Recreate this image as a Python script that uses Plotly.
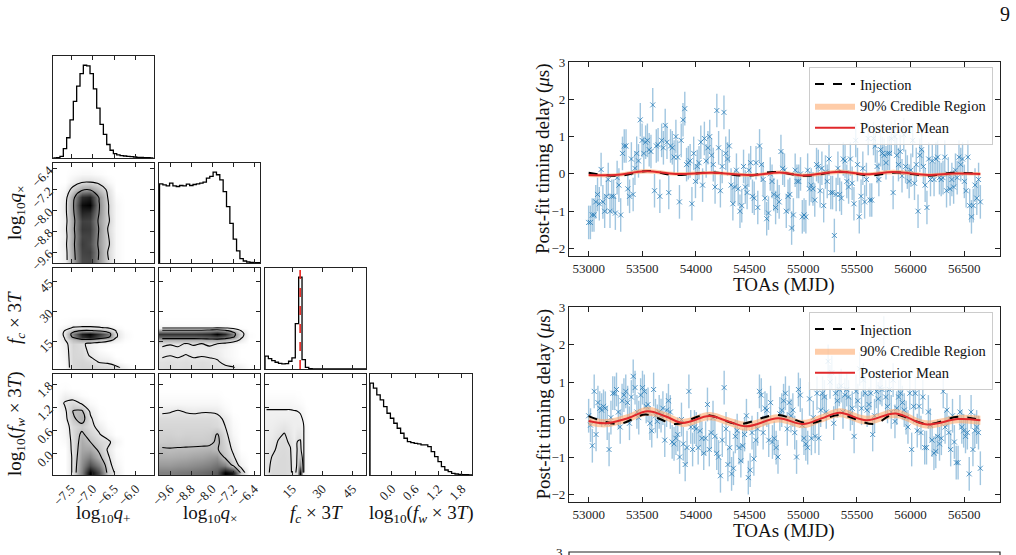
import numpy as np
import plotly.graph_objects as go

W, H = 1016, 555
SERIF = "Liberation Serif"

# ---------------- corner plot: 1-D marginal histograms ----------------
qp_range = [-7.91, -5.59]
qp_counts = [0, 1, 5, 28, 60, 113, 168, 213, 250, 275, 273, 250, 205, 148, 100,
             70, 40, 23, 13, 9, 7, 6, 5, 4, 3, 2, 2, 1, 1, 0]
qx_range = [-10.0, -6.18]
qx_counts = [236, 233, 230, 238, 230, 228, 231, 230, 235, 231, 234, 236, 238, 241, 253,
             258, 271, 263, 248, 213, 168, 118, 71, 36, 13, 6, 3, 2, 1, 1]
fc_range = [1.35, 51.8]
fc_counts = [38, 31, 25, 20, 17, 15, 16, 23, 33, 135, 273, 28, 5, 1, 0,
             0, 0, 0, 0, 0, 0, 0, 0, 0, 0, 0, 0, 0, 0, 0]
fw_range = [-0.557, 2.065]
fw_counts = [275, 260, 240, 225, 205, 185, 170, 155, 140, 125, 110, 100, 97, 95, 93,
             90, 90, 85, 70, 55, 40, 25, 15, 10, 5, 3, 2, 1, 1, 0]
fc_truth = 18.9

# ---------------- corner plot: 2-D density grids ----------------
qp_centers = [-7.85, -7.65, -7.45, -7.25, -7.05, -6.85, -6.65, -6.45, -6.25, -6.05, -5.85, -5.65]
qx_centers = [-9.9, -9.6, -9.3, -9.0, -8.7, -8.4, -8.1, -7.8, -7.5, -7.2, -6.9, -6.6, -6.3]
fc_centers = [2, 5, 8, 11, 14, 16, 17.5, 19, 20.5, 22, 24, 28, 40, 52]
fw_centers = [-0.5, -0.3, -0.1, 0.1, 0.3, 0.5, 0.7, 0.9, 1.1, 1.3, 1.5, 1.7, 1.9]

dens_qp_qx = [
    [0, 0.4, 2.4, 4.8, 4.9, 2.8, 1.1, 0.2, 0, 0, 0, 0],
    [0, 0.4, 2.5, 5.0, 5.1, 2.9, 1.0, 0.2, 0, 0, 0, 0],
    [0, 0.5, 2.6, 5.2, 4.8, 2.7, 1.2, 0.2, 0, 0, 0, 0],
    [0, 0.4, 2.5, 5.0, 5.0, 2.8, 1.1, 0.2, 0, 0, 0, 0],
    [0, 0.5, 2.6, 5.3, 5.2, 2.9, 1.0, 0.2, 0, 0, 0, 0],
    [0, 0.4, 2.5, 5.1, 5.0, 2.7, 1.2, 0.2, 0, 0, 0, 0],
    [0, 0.5, 2.7, 5.8, 5.6, 3.0, 1.1, 0.2, 0, 0, 0, 0],
    [0, 0.5, 2.8, 6.5, 6.8, 3.1, 1.1, 0.2, 0, 0, 0, 0],
    [0, 0.4, 2.5, 5.6, 6.0, 2.9, 1.0, 0.1, 0, 0, 0, 0],
    [0, 0.2, 1.4, 2.6, 2.8, 1.8, 0.8, 0, 0, 0, 0, 0],
    [0, 0, 0.4, 0.85, 0.9, 0.7, 0.2, 0, 0, 0, 0, 0],
    [0, 0, 0.1, 0.2, 0.2, 0.1, 0, 0, 0, 0, 0, 0],
    [0, 0, 0, 0, 0, 0, 0, 0, 0, 0, 0, 0],
]
dens_qp_fc = [
    [0, 0.2, 1.6, 1.8, 1.8, 1.6, 1.5, 1.3, 0.6, 0, 0, 0],
    [0, 0.3, 1.6, 1.7, 1.5, 0.9, 0.8, 0.3, 0, 0, 0, 0],
    [0, 0.4, 1.6, 1.5, 0.9, 0.5, 0.3, 0, 0, 0, 0, 0],
    [0, 0.5, 1.6, 1.4, 0.7, 0.2, 0, 0, 0, 0, 0, 0],
    [0, 0.6, 1.7, 1.3, 0.6, 0.3, 0.2, 0.1, 0, 0, 0, 0],
    [0, 0.9, 2.5, 3.5, 3.5, 2.5, 1.6, 0.7, 0.1, 0, 0, 0],
    [0, 1.1, 4.6, 8.0, 9.0, 7.0, 5.0, 1.1, 0.2, 0, 0, 0],
    [0, 1.2, 5.0, 9.0, 10.0, 8.0, 5.5, 1.1, 0.2, 0, 0, 0],
    [0, 1.0, 3.0, 4.1, 4.2, 3.6, 2.5, 0.9, 0.1, 0, 0, 0],
    [0, 0.5, 1.1, 1.2, 1.2, 1.1, 0.9, 0.3, 0, 0, 0, 0],
    [0, 0.1, 0.3, 0.4, 0.4, 0.3, 0.1, 0, 0, 0, 0, 0],
    [0, 0, 0, 0, 0, 0, 0, 0, 0, 0, 0, 0],
    [0, 0, 0, 0, 0, 0, 0, 0, 0, 0, 0, 0],
    [0, 0, 0, 0, 0, 0, 0, 0, 0, 0, 0, 0],
]
dens_qp_fw = [
    [0, 0, 1.2, 5.0, 10.0, 7.0, 2.0, 0.7, 0, 0, 0, 0],
    [0, 0, 1.2, 4.5, 7.0, 5.0, 1.5, 0.4, 0, 0, 0, 0],
    [0, 0, 1.2, 4.0, 5.0, 3.0, 1.2, 0.2, 0, 0, 0, 0],
    [0, 0, 1.3, 3.5, 3.5, 2.2, 0.9, 0.1, 0, 0, 0, 0],
    [0, 0.2, 1.3, 3.2, 2.5, 1.6, 1.3, 0.4, 0, 0, 0, 0],
    [0, 0.3, 1.4, 2.8, 1.8, 1.1, 0.4, 0, 0, 0, 0, 0],
    [0, 0.4, 1.5, 2.0, 1.3, 0.7, 0.1, 0, 0, 0, 0, 0],
    [0, 0.5, 2.2, 3.2, 1.2, 0.2, 0, 0, 0, 0, 0, 0],
    [0, 0.6, 2.6, 2.7, 0.8, 0.1, 0, 0, 0, 0, 0, 0],
    [0, 1.1, 1.5, 0.9, 0.2, 0, 0, 0, 0, 0, 0, 0],
    [0, 0.6, 0.4, 0.1, 0, 0, 0, 0, 0, 0, 0, 0],
    [0, 0.1, 0, 0, 0, 0, 0, 0, 0, 0, 0, 0],
    [0, 0, 0, 0, 0, 0, 0, 0, 0, 0, 0, 0],
]
dens_qx_fc = [
    [1.3, 1.4, 1.3, 1.4, 1.3, 1.4, 1.3, 1.3, 1.2, 1.1, 0.6, 0.1, 0],
    [1.2, 1.3, 1.2, 1.3, 1.2, 1.3, 1.2, 1.1, 0.7, 0.3, 0.1, 0, 0],
    [0.9, 1.0, 0.9, 1.05, 0.9, 0.95, 0.9, 0.8, 0.4, 0.2, 0, 0, 0],
    [0.8, 0.8, 0.85, 0.8, 0.75, 0.8, 0.85, 0.7, 0.4, 0.2, 0, 0, 0],
    [1.2, 1.05, 1.15, 0.95, 1.1, 1.0, 1.1, 1.0, 0.7, 0.3, 0.1, 0, 0],
    [3.0, 3.0, 3.0, 3.0, 3.0, 3.0, 3.2, 3.4, 3.0, 2.0, 0.8, 0, 0],
    [6.0, 6.0, 6.0, 6.0, 6.0, 6.2, 6.5, 7.0, 6.0, 4.5, 1.3, 0.1, 0],
    [8.0, 8.0, 8.0, 8.0, 8.0, 8.2, 8.5, 10.0, 8.5, 5.0, 1.5, 0.1, 0],
    [4.5, 4.5, 4.5, 4.5, 4.5, 4.6, 5.0, 5.5, 4.5, 3.0, 1.0, 0, 0],
    [0.5, 0.5, 0.5, 0.5, 0.5, 0.5, 0.5, 0.6, 0.5, 0.3, 0.1, 0, 0],
    [0.1, 0.1, 0.1, 0.1, 0.1, 0.1, 0.1, 0.1, 0.1, 0, 0, 0, 0],
    [0, 0, 0, 0, 0, 0, 0, 0, 0, 0, 0, 0, 0],
    [0, 0, 0, 0, 0, 0, 0, 0, 0, 0, 0, 0, 0],
    [0, 0, 0, 0, 0, 0, 0, 0, 0, 0, 0, 0, 0],
]
dens_qx_fw = [
    [5.0, 5.0, 5.2, 5.3, 5.5, 5.7, 6.0, 6.5, 10.0, 9.0, 2.0, 0, 0],
    [4.0, 4.0, 4.2, 4.3, 4.5, 4.7, 5.0, 5.5, 5.0, 2.0, 0.5, 0, 0],
    [3.2, 3.2, 3.3, 3.4, 3.6, 3.7, 4.0, 4.3, 2.2, 1.2, 0.2, 0, 0],
    [2.7, 2.6, 2.7, 2.7, 2.8, 2.9, 3.0, 2.6, 1.8, 0.8, 0, 0, 0],
    [2.0, 2.1, 2.0, 2.1, 2.0, 2.0, 2.1, 2.8, 1.6, 0.5, 0, 0, 0],
    [1.8, 1.8, 1.7, 1.8, 1.8, 1.8, 1.9, 2.6, 1.3, 0.3, 0, 0, 0],
    [1.6, 1.6, 1.6, 1.6, 1.6, 1.6, 1.6, 1.5, 1.0, 0.2, 0, 0, 0],
    [1.4, 1.4, 1.4, 1.4, 1.4, 1.4, 1.4, 1.3, 0.8, 0.1, 0, 0, 0],
    [0.8, 0.9, 1.1, 0.9, 0.8, 0.9, 0.9, 0.8, 0.3, 0, 0, 0, 0],
    [0.3, 0.3, 0.3, 0.3, 0.3, 0.3, 0.3, 0.3, 0.1, 0, 0, 0, 0],
    [0.1, 0.1, 0.1, 0.1, 0.1, 0.1, 0.1, 0.1, 0, 0, 0, 0, 0],
    [0, 0, 0, 0, 0, 0, 0, 0, 0, 0, 0, 0, 0],
    [0, 0, 0, 0, 0, 0, 0, 0, 0, 0, 0, 0, 0],
]
dens_fc_fw = [
    [2.0, 3.0, 3.0, 3.0, 2.7, 2.0, 3.0, 20.0, 1.1, 0.5, 0, 0, 0, 0],
    [2.0, 2.8, 3.0, 3.0, 2.8, 1.5, 2.8, 10.0, 1.1, 0.5, 0, 0, 0, 0],
    [1.8, 2.6, 2.9, 3.0, 2.7, 1.5, 2.7, 5.0, 1.1, 0.5, 0, 0, 0, 0],
    [1.6, 2.2, 2.8, 2.9, 2.6, 1.4, 2.6, 3.0, 1.1, 0.5, 0, 0, 0, 0],
    [1.5, 1.9, 2.6, 2.8, 2.3, 1.4, 2.55, 2.7, 1.1, 0.5, 0, 0, 0, 0],
    [1.4, 1.6, 2.2, 2.6, 1.9, 1.3, 1.9, 2.0, 1.1, 0.5, 0, 0, 0, 0],
    [1.3, 1.4, 1.7, 2.0, 1.6, 1.3, 1.4, 1.4, 1.1, 0.4, 0, 0, 0, 0],
    [1.2, 1.2, 1.3, 1.3, 1.3, 1.3, 1.3, 1.2, 0.9, 0.3, 0, 0, 0, 0],
    [1.1, 1.1, 1.1, 1.1, 1.1, 1.05, 1.0, 0.9, 0.6, 0.2, 0, 0, 0, 0],
    [0.6, 0.6, 0.6, 0.6, 0.6, 0.5, 0.4, 0.3, 0.2, 0, 0, 0, 0, 0],
    [0.2, 0.2, 0.2, 0.2, 0.2, 0.2, 0.1, 0.1, 0, 0, 0, 0, 0, 0],
    [0, 0, 0, 0, 0, 0, 0, 0, 0, 0, 0, 0, 0, 0],
    [0, 0, 0, 0, 0, 0, 0, 0, 0, 0, 0, 0, 0, 0],
]

# ---------------- timing residuals ----------------
toa_start, toa_end = 53000, 56650
resid_top = [
    -1.3, -1.3, -1.1, -1.1, -0.75, -0.55, -0.8, 0.12, -0.75, -1.0,
    -0.6, -0.15, -1.0, -0.6, -0.6, -1.05, -0.1, -0.3, -1.1,
    0.55, 0.75, 0.75, -0.4, -0.6, 0.4, -0.55, 0.15, 0.55, 0.35, 1.45, 0.9, 0.55, 0.85, 0.9, 0.65, 0.6,
    1.85, -0.45, 0.75, 0.78, -0.6, 0.9, 0.7, 1.3, 0.85, -0.5, 0.75, 0.7, 0.45, 1.0,
    0.45, -0.75, 0.9, 1.45, 1.75, 0.25, 0.3, 0.35, -0.8, 0.55, -0.2, 0.2, 0.3, 0.85, -0.3,
    0.95, 0.35, 0.7, 1.0, 0.5, 0.25, -0.35, 1.7, 0.7, -0.45, 0.2, 1.65, 0.55, 0.4, 0.75,
    -0.3, -0.8, -0.35, 0.1, -0.4, -1.0, -0.85, 0.2, -0.35, -0.5, 0.1, 0.3, -0.6, -0.65, 0.3,
    -0.9, 0.75, 0.25, -0.15, -0.65, -1.2, -1.05, 0.0, -0.2, -0.55, -0.9, -0.6, -0.75, 0.6, 0.15, 0.1,
    -1.0, -0.6, -0.55, -1.45, -1.1, 0.1, -0.2, -0.2, 0.0, -1.15, -1.1, -1.15, 0.1, -0.4, -0.3,
    -0.4, -0.7, 0.25, 0.2, -0.45, 0.15, -0.85, 0.05, -0.2, 0.4, -0.5, -0.5, -1.65, -0.55,
    0.15, -0.55, -0.65, 0.4, 0.35, -0.2, -0.35, 0.4, -0.25, -0.8, 0.9, 0.25, -1.15,
    -0.6, 0.15, -0.75, -0.15, 0.95, -0.7, -0.7, 0.95, 0.75, 0.2, -0.15, 0.65, 0.55, 0.5, 0.3, 0.55,
    0.55, 0.95, -0.5, 1.0, 0.5, 0.25, 0.6, -0.05, 1.05, 0.2, 0.05, -0.2, 0.1,
    0.9, -0.25, 0.25, -1.0, 0.5, 0.65, 0.2, -0.3, -0.9, 0.4, -0.15, 0.35, -0.15, 0.4, 0.45,
    -0.1, -0.15, -0.1, 0.45, -0.45, 0.0, -0.4, -0.15, -0.35, 0.1, -0.1, 0.45, 0.25, 0.4,
    -0.2, -0.45, 0.45, -0.85, -1.15, -0.85, -0.3, -0.65, -0.15, -0.75,
]
resid_bot = [
    0.1, -0.15, -0.7, 0.75, -0.4, 0.45, 0.3, 0.25, 0.35, 0.3, -0.1, -0.8, 0.05, 0.7, 0.7,
    0.8, 0.2, -0.2, 0.5, 0.65, 0.75, 0.45, -0.1, 0.6, 1.15, 0.85, 0.2, 0.05, 0.65,
    0.85, 0.75, 0.35, 0.4, -0.1, -0.3, 0.8, 0.1, -0.05, 0.2, 0.1, 0.3, -0.55, 0.25,
    0.5, 0.2, -0.6, -0.65, -0.5, -0.4, -1.0, 0.0, -0.65, -1.2, -0.75, 0.75, -0.2, -0.8, -0.2,
    -0.25, -0.75, -0.3, -0.5, -0.9, -0.5, 0.4, -0.8, -0.35, 0.05, -0.45, -0.9, -1.0, -1.5, -0.55, 0.85,
    -0.25, -1.2, -0.75, -1.45, -1.3, -0.45, -0.3, -0.75, -1.1, -0.7, -0.4, 0.1, -1.55, -1.35, -0.35,
    -1.05, -0.55, -0.25, 0.75, 0.65, -0.35, 0.3, 0.25, -0.55, 0.45, -0.6, -0.5, -0.75, -1.0, 0.15,
    0.25, 0.5, 0.7, -0.25, 0.45, 0.1, 0.25, -0.35, -1.0, 0.8, 0.65, -0.15, -0.5, -0.65, -0.75, 0.55,
    -0.5, 0.05, -0.45, 0.7, -0.5, 0.25, 0.7, 0.6, 0.2, 1.55, 1.0, 1.25, -0.1, 0.7, 0.5,
    0.8, 0.9, 0.2, 0.65, 0.8, 0.6, 0.15, 0.3, -0.45, 0.75, 0.5, 1.35, 0.3,
    1.05, 0.7, 0.25, 0.4, 0.7, -0.4, 0.1, 0.75, 0.55, 0.85, 0.8, 2.3, 0.6, 0.35,
    0.8, 0.2, 1.05, -0.05, 0.3, 0.6, 0.7, 0.45, 0.25, 0.05, -0.2, 0.7, -0.8, 0.35,
    0.7, -0.3, 0.35, -0.35, 0.6, -0.75, -0.75, 0.2, -0.15, -0.55, -0.9, -0.85, -0.45, -0.65, -0.5,
    0.75, -0.2, 0.25, -0.35, -0.8, 0.1, -0.6, -1.15, -1.15, 0.2, -0.2, -0.3,
    -0.45, -0.35, -1.45, 0.2, -0.8, -0.3, -0.2, -0.35, -1.3,
]
toa_err = 0.45

# signal curves (knots)
top_mean_t = [53000, 53250, 53530, 53810, 54150, 54530, 54780, 55000, 55340, 55590, 55840, 56160, 56400, 56650]
top_mean_v = [-0.03, -0.03, 0.07, 0.0, 0.03, -0.03, 0.04, -0.04, 0.06, -0.01, 0.05, -0.03, 0.01, 0.0]
top_band_hw = [0.05, 0.05, 0.06, 0.05, 0.05, 0.05, 0.05, 0.05, 0.06, 0.05, 0.06, 0.05, 0.05, 0.05]
top_inj_t = [53000, 53280, 53550, 53800, 54150, 54470, 54720, 55030, 55340, 55620, 55870, 56160, 56400, 56650]
top_inj_v = [0.03, -0.05, 0.08, -0.03, 0.04, -0.05, 0.05, -0.05, 0.06, -0.04, 0.04, -0.05, 0.03, 0.0]

bot_mean_t = [53000, 53160, 53350, 53550, 53720, 53875, 54125, 54300, 54470, 54765, 55000, 55170,
              55340, 55590, 55860, 56140, 56440, 56650]
bot_mean_v = [-0.04, -0.1, 0.02, 0.22, 0.08, -0.09, 0.09, -0.05, -0.18, 0.03, -0.12, 0.03,
              0.18, -0.02, 0.16, -0.13, 0.01, -0.02]
bot_band_hw = [0.12, 0.11, 0.11, 0.12, 0.11, 0.11, 0.11, 0.11, 0.12, 0.11, 0.11, 0.11,
               0.12, 0.12, 0.12, 0.11, 0.11, 0.12]
bot_inj_t = [53000, 53280, 53530, 53810, 54090, 54400, 54750, 55060, 55340, 55660, 55840, 56160, 56440, 56650]
bot_inj_v = [0.09, -0.12, 0.13, -0.12, 0.12, -0.12, 0.12, -0.1, 0.12, -0.12, 0.13, -0.12, 0.07, -0.01]

# ---------------- layout geometry (pixels) ----------------
col_px = [(53, 154), (159, 260), (265, 366), (370, 472)]
row_px = [(56, 158), (163, 263), (268, 369), (374, 475)]
right_x = (569, 1000)
right_rows = [(62, 256), (307, 502)]

def dx(a, b):
    return [a / W, b / W]

def dy(top, bot):
    return [1 - bot / H, 1 - top / H]

params = {
    "qp": dict(range=[-7.917, -5.577], tickvals=[-7.5, -7.0, -6.5, -6.0], fmt=".1f"),
    "qx": dict(range=[-10.02, -6.18], tickvals=[-9.6, -8.8, -8.0, -7.2, -6.4], fmt=".1f"),
    "fc": dict(range=[1.35, 51.8], tickvals=[15, 30, 45], fmt="d"),
    "fw": dict(range=[-0.557, 2.065], tickvals=[0.0, 0.6, 1.2, 1.8], fmt=".1f"),
}
names = ["qp", "qx", "fc", "fw"]
centers = {"qp": qp_centers, "qx": qx_centers, "fc": fc_centers, "fw": fw_centers}
hists = {"qp": (qp_range, qp_counts), "qx": (qx_range, qx_counts),
         "fc": (fc_range, fc_counts), "fw": (fw_range, fw_counts)}
dens = {("qp", "qx"): (dens_qp_qx, 1.0, 3.0), ("qp", "fc"): (dens_qp_fc, 1.0, 4.0),
        ("qp", "fw"): (dens_qp_fw, 1.0, 2.5), ("qx", "fc"): (dens_qx_fc, 1.0, 4.0),
        ("qx", "fw"): (dens_qx_fw, 1.0, 2.5), ("fc", "fw"): (dens_fc_fw, 1.0, 2.5)}

AX = dict(showline=True, linecolor="#222", linewidth=1.2, mirror="ticks", ticks="inside",
          ticklen=4, tickwidth=1, tickcolor="#222", showgrid=False, zeroline=False,
          automargin=False, tickfont=dict(family=SERIF, size=13, color="#222"))

fig = go.Figure()
layout = {}
idx = 0
for r in range(4):
    for c in range(r + 1):
        idx += 1
        xa, ya = f"x{idx}", f"y{idx}"
        xn, yn = names[c], names[r]
        px_ = params[xn]
        xaxis = dict(AX, domain=dx(*col_px[c]), anchor=ya, range=px_["range"],
                     tickmode="array", tickvals=px_["tickvals"], tickformat=px_["fmt"],
                     showticklabels=(r == 3), tickangle=-45)
        if r == c:
            rng, cnt = hists[xn]
            n = len(cnt)
            edges = np.linspace(rng[0], rng[1], n + 1)
            hx = [edges[0]] + list(edges)
            hy = [0] + list(cnt) + [0]
            fig.add_trace(go.Scatter(x=hx, y=hy, mode="lines", line=dict(color="black", width=1.3, shape="hv"),
                                     xaxis=xa, yaxis=ya, showlegend=False, hoverinfo="skip"))
            ymax = 1.1 * max(cnt)
            yaxis = dict(showline=True, linecolor="#222", linewidth=1.2, mirror=True, ticks="",
                         showticklabels=False, showgrid=False, zeroline=False, automargin=False,
                         domain=dy(*row_px[r]), anchor=xa, range=[0, ymax])
            if xn == "fc":
                fig.add_trace(go.Scatter(x=[fc_truth, fc_truth], y=[0, ymax], mode="lines",
                                         line=dict(color="#e8231f", width=1.6, dash="dash"),
                                         xaxis=xa, yaxis=ya, showlegend=False, hoverinfo="skip"))
        else:
            z, l1, l2 = dens[(xn, yn)]
            z = np.array(z, dtype=float)
            fig.add_trace(go.Heatmap(x=centers[xn], y=centers[yn], z=z, zmin=0, zmax=z.max(),
                                     colorscale=[[0, "white"], [1, "black"]], zsmooth="best",
                                     showscale=False, xaxis=xa, yaxis=ya, hoverinfo="skip"))
            fig.add_trace(go.Contour(x=centers[xn], y=centers[yn], z=z, autocontour=False,
                                     contours=dict(start=l1, end=l2, size=l2 - l1, coloring="lines"),
                                     colorscale=[[0, "black"], [1, "black"]], showscale=False,
                                     line=dict(width=1.1, smoothing=1.0), xaxis=xa, yaxis=ya,
                                     hoverinfo="skip"))
            py_ = params[yn]
            yaxis = dict(AX, domain=dy(*row_px[r]), anchor=xa, range=py_["range"],
                         tickmode="array", tickvals=py_["tickvals"], tickformat=py_["fmt"],
                         showticklabels=(c == 0), tickangle=-45)
        layout["xaxis" + ("" if idx == 1 else str(idx))] = xaxis
        layout["yaxis" + ("" if idx == 1 else str(idx))] = yaxis

# ---------------- right-hand panels ----------------
RAX = dict(AX, ticklen=5, tickfont=dict(family=SERIF, size=13, color="#222"))
panels = [
    (resid_top, top_mean_t, top_mean_v, top_band_hw, top_inj_t, top_inj_v),
    (resid_bot, bot_mean_t, bot_mean_v, bot_band_hw, bot_inj_t, bot_inj_v),
]
for k, (res, mt, mv, hw, it, iv) in enumerate(panels):
    idx += 1
    xa, ya = f"x{idx}", f"y{idx}"
    leg = "legend" if k == 0 else "legend2"
    t = np.linspace(toa_start, toa_end, len(res))
    fig.add_trace(go.Scatter(x=t, y=res, mode="markers",
                             marker=dict(symbol="x-thin", size=5, line=dict(width=1, color="rgba(31,119,180,0.75)")),
                             error_y=dict(type="constant", value=toa_err, color="rgba(31,119,180,0.42)",
                                          thickness=1.4, width=0),
                             xaxis=xa, yaxis=ya, showlegend=False, hoverinfo="skip"))
    up = [m + h for m, h in zip(mv, hw)]
    lo = [m - h for m, h in zip(mv, hw)]
    fig.add_trace(go.Scatter(x=mt, y=up, mode="lines", line=dict(width=0, shape="spline"),
                             xaxis=xa, yaxis=ya, showlegend=False, hoverinfo="skip"))
    fig.add_trace(go.Scatter(x=mt, y=lo, mode="lines", line=dict(width=0, shape="spline"),
                             fill="tonexty", fillcolor="rgba(253,170,110,0.6)",
                             name="90% Credible Region", legend=leg, legendrank=2,
                             xaxis=xa, yaxis=ya, hoverinfo="skip"))
    fig.add_trace(go.Scatter(x=it, y=iv, mode="lines", line=dict(color="black", width=2, dash="dash", shape="spline"),
                             name="Injection", legend=leg, legendrank=1, xaxis=xa, yaxis=ya, hoverinfo="skip"))
    fig.add_trace(go.Scatter(x=mt, y=mv, mode="lines", line=dict(color="#e0282b", width=2, shape="spline"),
                             name="Posterior Mean", legend=leg, legendrank=3, xaxis=xa, yaxis=ya, hoverinfo="skip"))
    top, bot = right_rows[k]
    layout[f"xaxis{idx}"] = dict(RAX, domain=dx(*right_x), anchor=ya, range=[52817, 56833],
                                 tickmode="array", tickvals=list(range(53000, 56501, 500)), tickformat="d")
    layout[f"yaxis{idx}"] = dict(RAX, domain=dy(top, bot), anchor=xa, range=[-2.2, 3.0],
                                 tickmode="array", tickvals=[-2, -1, 0, 1, 2, 3], tickformat="d")
    layout[leg] = dict(x=993 / W, y=1 - (top + 5) / H, xanchor="right", yanchor="top",
                       bgcolor="rgba(255,255,255,0.85)", bordercolor="#cccccc", borderwidth=1,
                       font=dict(family=SERIF, size=14.5, color="#111"), tracegroupgap=0,
                       traceorder="normal", itemwidth=40)

# ---------------- annotations ----------------
ann = []
def A(text, x, y, size, angle=0):
    ann.append(dict(text=text, x=x / W, y=1 - y / H, xref="paper", yref="paper", showarrow=False,
                    xanchor="center", yanchor="middle", textangle=angle,
                    font=dict(family=SERIF, size=size, color="#111")))

A("log<sub>10</sub><i>q</i><sub>+</sub>", 103, 514, 19)
A("log<sub>10</sub><i>q</i><sub>×</sub>", 210, 514, 19)
A("<i>f<sub>c</sub></i> × 3<i>T</i>", 316, 514, 19)
A("log<sub>10</sub>(<i>f<sub>w</sub></i> × 3<i>T</i>)", 421, 514, 19)
A("log<sub>10</sub><i>q</i><sub>×</sub>", 16, 213, 19, -90)
A("<i>f<sub>c</sub></i> × 3<i>T</i>", 16, 318, 19, -90)
A("log<sub>10</sub>(<i>f<sub>w</sub></i> × 3<i>T</i>)", 16, 424, 19, -90)
for top, bot in right_rows:
    A("Post-fit timing delay (<i>μ</i>s)", 543, (top + bot) / 2, 19, -90)
    A("TOAs (MJD)", 784, bot + 29, 19)
A("9", 1005, 14, 20)
A("3", 559, 552, 13)

shapes = [dict(type="rect", xref="paper", yref="paper", x0=569 / W, x1=1000 / W,
               y0=1 - 600 / H, y1=1 - 552 / H, line=dict(color="#222", width=1.2))]

fig.update_layout(**layout)
fig.update_layout(width=W, height=H, margin=dict(l=0, r=0, t=0, b=0), autosize=False,
                  paper_bgcolor="white", plot_bgcolor="white", annotations=ann, shapes=shapes,
                  font=dict(family=SERIF, color="#111"))
fig.write_html("out.html")
